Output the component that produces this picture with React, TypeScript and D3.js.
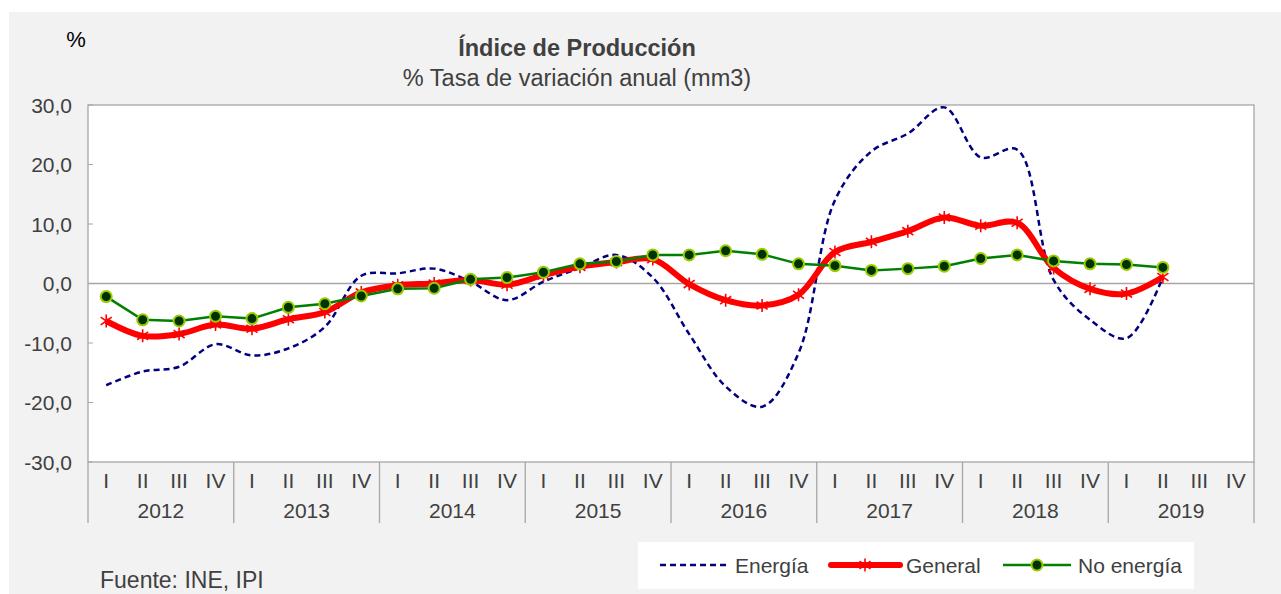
import React, { useRef, useEffect } from "react";
import * as d3 from "d3";

const years = ["2012", "2013", "2014", "2015", "2016", "2017", "2018", "2019"];
const quarters = ["I", "II", "III", "IV"];
const yTicks = [-30, -20, -10, 0, 10, 20, 30];

// 2012 I ... 2019 II
const energia = [
  -17.1, -14.8, -14.0, -10.2, -12.1, -10.9, -7.3, 1.3,
  1.7, 2.5, 0.3, -2.8, 0.3, 2.6, 4.8, 1.0,
  -8.5, -17.3, -20.7, -11.7, 14.0, 22.2, 25.2, 29.6,
  21.2, 22.5, 0.6, -6.1, -9.2, 1.1,
];
const general = [
  -6.3, -8.8, -8.5, -6.9, -7.6, -6.0, -4.8, -1.5,
  -0.3, 0.0, 0.6, -0.2, 1.4, 2.8, 3.6, 4.1,
  -0.1, -2.8, -3.7, -1.9, 5.3, 7.0, 8.8, 11.1,
  9.7, 10.2, 2.6, -0.9, -1.7, 1.1,
];
const noEnergia = [
  -2.2, -6.1, -6.3, -5.5, -5.9, -4.0, -3.4, -2.1,
  -0.9, -0.8, 0.7, 1.0, 1.9, 3.3, 3.7, 4.8,
  4.8, 5.5, 4.9, 3.3, 3.0, 2.2, 2.5, 2.9,
  4.2, 4.8, 3.8, 3.3, 3.2, 2.7,
];

const FONT = "'Liberation Sans', Arial, sans-serif";
const TXT = "#404040";

// asterisk marker: vertical bar plus an x
const starPath = (r: number) => {
  const dx = r * 0.85;
  const dy = r * 0.6;
  return `M0,${-r}L0,${r}M${-dx},${-dy}L${dx},${dy}M${-dx},${dy}L${dx},${-dy}`;
};

const App = () => {
  const svgRef = useRef<SVGSVGElement>(null);

  useEffect(() => {
    const svg = d3.select(svgRef.current);
    svg.selectAll("*").remove();

    const W = 1281,
      H = 594,
      left = 88,
      right = 1254,
      top = 105,
      bottom = 462;

    svg.append("rect").attr("width", W).attr("height", H).attr("fill", "#ffffff");
    svg.append("rect").attr("x", 9).attr("y", 12).attr("width", W - 9).attr("height", H - 12).attr("fill", "#f2f2f2");

    const keys = years.flatMap((y) => quarters.map((q) => `${y}-${q}`));
    const x = d3.scaleBand().domain(keys).range([left, right]);
    const y = d3.scaleLinear().domain([-30, 30]).range([bottom, top]);
    const cx = (i: number) => (x(keys[i]) as number) + x.bandwidth() / 2;

    // plot area
    svg.append("rect")
      .attr("x", left).attr("y", top)
      .attr("width", right - left).attr("height", bottom - top)
      .attr("fill", "#ffffff").attr("stroke", "#a6a6a6").attr("stroke-width", 1.3);

    // zero line
    svg.append("line")
      .attr("x1", left).attr("x2", right)
      .attr("y1", y(0)).attr("y2", y(0))
      .attr("stroke", "#a6a6a6").attr("stroke-width", 1.3);

    // y axis
    const yAxis = svg.append("g");
    yTicks.forEach((t) => {
      yAxis.append("line")
        .attr("x1", left).attr("x2", left + 5)
        .attr("y1", y(t)).attr("y2", y(t))
        .attr("stroke", "#a6a6a6");
      yAxis.append("text")
        .attr("x", 72).attr("y", y(t))
        .attr("dy", "0.36em")
        .attr("text-anchor", "end")
        .attr("font-family", FONT).attr("font-size", 21).attr("fill", TXT)
        .text(t.toFixed(1).replace(".", ","));
    });

    // x axis: quarters, years, separators
    const xAxis = svg.append("g");
    years.forEach((yr, j) => {
      const x0 = x(`${yr}-I`) as number;
      xAxis.append("line")
        .attr("x1", x0).attr("x2", x0)
        .attr("y1", bottom).attr("y2", 523)
        .attr("stroke", "#a6a6a6").attr("stroke-width", 1.3);
      quarters.forEach((q) => {
        xAxis.append("text")
          .attr("x", (x(`${yr}-${q}`) as number) + x.bandwidth() / 2)
          .attr("y", 488)
          .attr("text-anchor", "middle")
          .attr("font-family", FONT).attr("font-size", 21).attr("fill", TXT)
          .text(q);
      });
      xAxis.append("text")
        .attr("x", x0 + x.bandwidth() * 2)
        .attr("y", 518)
        .attr("text-anchor", "middle")
        .attr("font-family", FONT).attr("font-size", 21).attr("fill", TXT)
        .text(yr);
      if (j === years.length - 1) {
        xAxis.append("line")
          .attr("x1", right).attr("x2", right)
          .attr("y1", bottom).attr("y2", 523)
          .attr("stroke", "#a6a6a6").attr("stroke-width", 1.3);
      }
    });

    const smooth = d3.line<number>()
      .x((_, i) => cx(i))
      .y((d) => y(d))
      .curve(d3.curveCatmullRom.alpha(0.5));
    const straight = d3.line<number>()
      .x((_, i) => cx(i))
      .y((d) => y(d));

    // Energía
    svg.append("path")
      .attr("d", smooth(energia))
      .attr("fill", "none")
      .attr("stroke", "#000080")
      .attr("stroke-width", 2.5)
      .attr("stroke-dasharray", "6,4");

    // General
    svg.append("path")
      .attr("d", smooth(general))
      .attr("fill", "none")
      .attr("stroke", "#ff0000")
      .attr("stroke-width", 6)
      .attr("stroke-linejoin", "round");
    svg.append("g")
      .selectAll("path")
      .data(general)
      .enter()
      .append("path")
      .attr("transform", (d, i) => `translate(${cx(i)},${y(d)})`)
      .attr("d", starPath(6.5))
      .attr("stroke", "#ff0000")
      .attr("stroke-width", 1.6)
      .attr("fill", "none");

    // No energía
    svg.append("path")
      .attr("d", straight(noEnergia))
      .attr("fill", "none")
      .attr("stroke", "#008000")
      .attr("stroke-width", 2.5);
    svg.append("g")
      .selectAll("circle")
      .data(noEnergia)
      .enter()
      .append("circle")
      .attr("cx", (_, i) => cx(i))
      .attr("cy", (d) => y(d))
      .attr("r", 5.5)
      .attr("fill", "#003300")
      .attr("stroke", "#99cc00")
      .attr("stroke-width", 2);

    // titles
    svg.append("text")
      .attr("x", 577).attr("y", 56)
      .attr("text-anchor", "middle")
      .attr("font-family", FONT).attr("font-size", 23.5).attr("font-weight", "bold").attr("fill", TXT)
      .text("Índice de Producción");
    svg.append("text")
      .attr("x", 577).attr("y", 86)
      .attr("text-anchor", "middle")
      .attr("font-family", FONT).attr("font-size", 23.5).attr("fill", TXT)
      .text("% Tasa de variación anual (mm3)");
    svg.append("text")
      .attr("x", 76).attr("y", 47)
      .attr("text-anchor", "middle")
      .attr("font-family", FONT).attr("font-size", 22).attr("fill", "#000000")
      .text("%");

    // legend
    const lg = svg.append("g");
    lg.append("rect")
      .attr("x", 638).attr("y", 542).attr("width", 556).attr("height", 47)
      .attr("fill", "#ffffff");
    const ly = 565;
    lg.append("line")
      .attr("x1", 660).attr("x2", 729).attr("y1", ly).attr("y2", ly)
      .attr("stroke", "#000080").attr("stroke-width", 2.5).attr("stroke-dasharray", "6,4");
    lg.append("line")
      .attr("x1", 831).attr("x2", 900).attr("y1", ly).attr("y2", ly)
      .attr("stroke", "#ff0000").attr("stroke-width", 6).attr("stroke-linecap", "round");
    lg.append("path")
      .attr("transform", `translate(865,${ly})`)
      .attr("d", starPath(6.5))
      .attr("stroke", "#ff0000").attr("stroke-width", 1.6);
    lg.append("line")
      .attr("x1", 1003).attr("x2", 1071).attr("y1", ly).attr("y2", ly)
      .attr("stroke", "#008000").attr("stroke-width", 2.5);
    lg.append("circle")
      .attr("cx", 1037).attr("cy", ly).attr("r", 5.5)
      .attr("fill", "#003300").attr("stroke", "#99cc00").attr("stroke-width", 2);
    [
      { t: "Energía", x: 735 },
      { t: "General", x: 906 },
      { t: "No energía", x: 1078 },
    ].forEach((d) => {
      lg.append("text")
        .attr("x", d.x).attr("y", ly)
        .attr("dy", "0.36em")
        .attr("font-family", FONT).attr("font-size", 21).attr("fill", TXT)
        .text(d.t);
    });

    svg.append("text")
      .attr("x", 100).attr("y", 588)
      .attr("font-family", FONT).attr("font-size", 23).attr("fill", TXT)
      .text("Fuente: INE, IPI");
  }, []);

  return (
    <svg
      ref={svgRef}
      width={1281}
      height={594}
      style={{ position: "absolute", left: 0, top: 0, display: "block" }}
    ></svg>
  );
};

export default App;
